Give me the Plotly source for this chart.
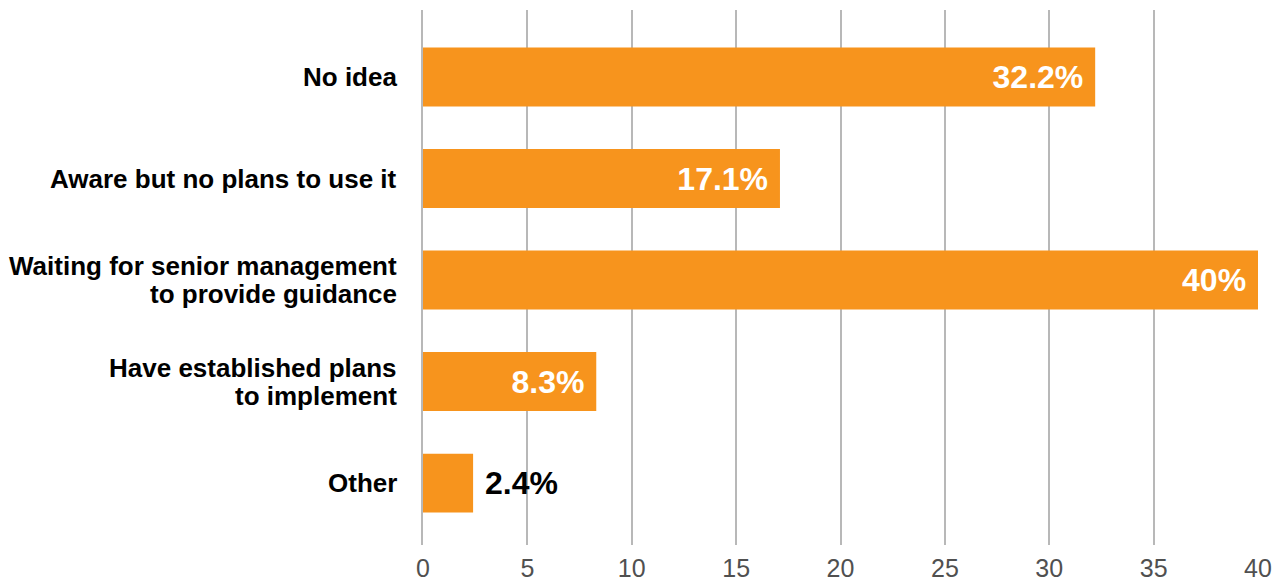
import plotly.graph_objects as go

categories = ["No idea", "Aware but no plans to use it",
              "Waiting for senior management\nto provide guidance",
              "Have established plans\nto implement", "Other"]
values = [32.2, 17.1, 40, 8.3, 2.4]
value_labels = ["32.2%", "17.1%", "40%", "8.3%", "2.4%"]
x_ticks = [0, 5, 10, 15, 20, 25, 30, 35, 40]

FONT = "Liberation Sans, Arial, Helvetica, sans-serif"
positions = ["inside", "inside", "inside", "inside", "outside"]
texts = [(t + "\u00a0") if p == "inside" else ("\u00a0" + t) for t, p in zip(value_labels, positions)]

fig = go.Figure(go.Bar(
    y=categories, x=values, orientation="h",
    marker=dict(color="#F7941D", line=dict(width=0)),
    width=0.58,
    text=texts, textposition=positions,
    insidetextanchor="end",
    insidetextfont=dict(family=FONT, size=32, color="white", weight="bold"),
    outsidetextfont=dict(family=FONT, size=32, color="black", weight="bold"),
    cliponaxis=False,
))

# category labels as right-aligned, tightly spaced text
annotations = []
for cat in categories:
    lines = cat.split("\n")
    n = len(lines)
    for i, line in enumerate(lines):
        annotations.append(dict(
            x=0, xref="paper", xanchor="right", xshift=-24,
            y=cat, yref="y", yanchor="middle", yshift=(n - 1) * 14 - i * 28,
            text=line, showarrow=False,
            font=dict(family=FONT, size=26, color="black", weight="bold"),
        ))

fig.update_layout(
    width=1280, height=582,
    margin=dict(l=423, r=22, t=10, b=37),
    paper_bgcolor="white", plot_bgcolor="white",
    showlegend=False,
    annotations=annotations,
    xaxis=dict(range=[0, 40], tickvals=x_ticks, showgrid=True, gridcolor="#b8b8b8", gridwidth=1.5,
               zeroline=False, showline=False, automargin=False,
               tickfont=dict(family=FONT, size=25, color="#505050"),
               ticks="", ticklabelstandoff=6),
    yaxis=dict(categoryorder="array", categoryarray=categories, range=[4.61, -0.66],
               showgrid=False, zeroline=False, showline=True, linecolor="#b8b8b8", linewidth=1.5,
               ticks="", showticklabels=False, automargin=False),
)

fig.write_html("out.html")
